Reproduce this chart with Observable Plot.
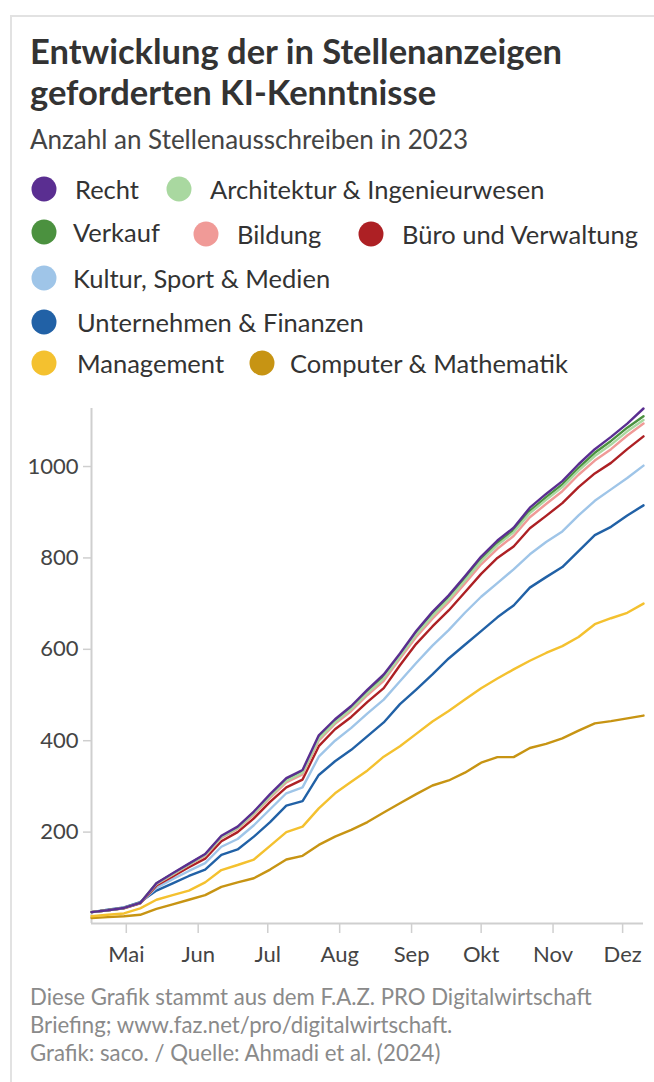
<!DOCTYPE html>
<html>
<head>
<meta charset="utf-8">
<script src="https://cdn.jsdelivr.net/npm/d3@7"></script>
<script src="https://cdn.jsdelivr.net/npm/@observablehq/plot@0.6"></script>
<style>
  html, body { margin: 0; padding: 0; background: #fff; }
  body { width: 654px; height: 1082px; position: relative; overflow: hidden; font-family: Lato, "Open Sans", sans-serif; color: #333; }
  .card { position: absolute; left: 10px; top: 15px; width: 660px; height: 1100px; border-left: 2px solid #e2e2e2; border-top: 2px solid #e2e2e2; }
  .title { position: absolute; left: 30px; top: 30px; font-size: 34.5px; font-weight: 700; line-height: 41px; color: #333; white-space: nowrap; }
  .subtitle { position: absolute; left: 30px; top: 124px; font-size: 26px; line-height: 31px; color: #444; white-space: nowrap; }
  .lg { position: absolute; font-size: 25.5px; color: #333; white-space: nowrap; line-height: 30px; transform: translateY(-50%); }
  .dot { position: absolute; width: 25px; height: 25px; border-radius: 50%; transform: translate(-50%, -50%); }
  #chart { position: absolute; left: 0; top: 395px; }
  .caption { position: absolute; left: 30px; top: 983px; font-size: 22.2px; line-height: 28px; color: #8a8a8a; white-space: nowrap; }
</style>
</head>
<body>
<div class="card"></div>
<div class="title">Entwicklung der in Stellenanzeigen<br>geforderten KI-Kenntnisse</div>
<div class="subtitle">Anzahl an Stellenausschreiben in 2023</div>
<div id="legend"></div>
<div id="chart"></div>
<div class="caption">Diese Grafik stammt aus dem F.A.Z. PRO Digitalwirtschaft<br>Briefing; www.faz.net/pro/digitalwirtschaft.<br>Grafik: saco. / Quelle: Ahmadi et al. (2024)</div>
<script>
// ---- data ----
const dates = ["2023-04-16","2023-04-23","2023-04-30","2023-05-07","2023-05-14","2023-05-21","2023-05-28",
  "2023-06-04","2023-06-11","2023-06-18","2023-06-25","2023-07-02","2023-07-09","2023-07-16","2023-07-23",
  "2023-07-30","2023-08-06","2023-08-13","2023-08-20","2023-08-27","2023-09-03","2023-09-10","2023-09-17",
  "2023-09-24","2023-10-01","2023-10-08","2023-10-15","2023-10-22","2023-10-29","2023-11-05","2023-11-12",
  "2023-11-19","2023-11-26","2023-12-03","2023-12-10"];

const categories = ["Recht","Architektur & Ingenieurwesen","Verkauf","Bildung","Büro und Verwaltung",
  "Kultur, Sport & Medien","Unternehmen & Finanzen","Management","Computer & Mathematik"];
const colors = ["#5a2e91","#a9d8a0","#4b913f","#f09a97","#ad2024","#9fc5e8","#2161a6","#f4c12f","#c79413"];

const recht = [25,29,34,45,88,110,131,152,192,212,245,283,318,336,412,447,476,512,545,591,640,682,718,760,803,838,866,910,940,968,1005,1038,1065,1094,1127];
const architektur = [25,29,34,45,87,108,129,150,189,209,241,278,312,330,404,440,469,504,536,584,632,673,709,750,793,828,856,898,927,955,991,1023,1048,1077,1102];
const verkauf = [25,29,34,45,88,109,130,151,190,210,243,280,315,333,408,443,472,508,540,587,636,677,713,755,797,832,860,903,933,961,997,1030,1056,1085,1110];
const bildung = [25,29,34,45,86,107,128,148,187,207,238,275,309,326,400,437,465,500,531,580,627,667,703,744,786,820,848,889,918,946,982,1013,1038,1068,1094];
const buero = [25,29,33,44,83,103,123,142,180,200,230,266,298,315,388,425,452,485,515,565,612,650,685,725,765,800,825,865,892,920,955,985,1008,1038,1066];
const kultur = [25,29,34,45,78,97,115,132,168,185,215,250,285,298,365,400,428,460,490,530,570,608,642,680,715,745,775,808,835,858,893,925,950,975,1002];
const unternehmen = [25,30,35,47,72,88,104,118,150,162,190,222,258,268,325,355,380,410,440,480,512,545,580,610,640,670,696,735,758,780,815,850,868,893,915];
const management = [16,19,22,33,52,62,72,90,117,128,140,170,200,212,252,285,310,335,365,388,415,442,465,490,515,536,556,575,592,607,627,655,668,680,700];
const computer = [12,14,16,19,32,42,52,62,80,90,99,118,140,148,172,190,205,222,243,263,283,302,313,330,352,364,364,384,393,405,422,438,443,449,455];

const seriesValues = [recht, architektur, verkauf, bildung, buero, kultur, unternehmen, management, computer];
const yTicks = [200, 400, 600, 800, 1000];
const monthNames = ["Jan","Feb","Mär","Apr","Mai","Jun","Jul","Aug","Sep","Okt","Nov","Dez"];
const xTicks = ["2023-05-01","2023-06-01","2023-07-01","2023-08-01","2023-09-01","2023-10-01","2023-11-01","2023-12-01"];

// ---- legend ----
const legendLayout = [
  {i:0, cx:44, tx:75, y:189}, {i:1, cx:179, tx:210, y:189},
  {i:2, cx:44, tx:73, y:232}, {i:3, cx:206, tx:237, y:234}, {i:4, cx:371, tx:402, y:234},
  {i:5, cx:44, tx:73, y:278},
  {i:6, cx:44, tx:77, y:322},
  {i:7, cx:44, tx:77, y:363}, {i:8, cx:262, tx:290, y:363}
];
const lg = document.getElementById("legend");
for (const it of legendLayout) {
  const d = document.createElement("div");
  d.className = "dot"; d.style.left = it.cx + "px"; d.style.top = it.y + "px"; d.style.background = colors[it.i];
  lg.appendChild(d);
  const t = document.createElement("div");
  t.className = "lg"; t.style.left = it.tx + "px"; t.style.top = it.y + "px"; t.textContent = categories[it.i];
  lg.appendChild(t);
}

// ---- chart ----
const parse = d3.utcParse("%Y-%m-%d");
const rows = [];
categories.forEach((c, k) => {
  seriesValues[k].forEach((v, j) => rows.push({date: parse(dates[j]), value: v, cat: c}));
});
const x0 = parse(dates[0]), x1 = parse(dates[dates.length - 1]);

const chart = Plot.plot({
  width: 654,
  height: 578,
  marginLeft: 91,
  marginRight: 11,
  marginTop: 13,
  marginBottom: 50,
  style: {fontFamily: "Lato, 'Open Sans', sans-serif", fontSize: "22px", color: "#444", background: "transparent"},
  x: {type: "utc", domain: [x0, x1], label: null},
  y: {domain: [0, 1127], label: null},
  color: {domain: categories, range: colors},
  marks: [
    Plot.axisY({ticks: yTicks, tickSize: 8, tickPadding: 5, stroke: "#cfcfcf", strokeWidth: 1.5, fontSize: 22, fill: "#444",
      tickFormat: d => String(d), label: null}),
    Plot.axisX({ticks: xTicks.map(parse), tickSize: 10, tickPadding: 13, stroke: "#cfcfcf", strokeWidth: 1.5, fontSize: 22, fill: "#444",
      tickFormat: d => monthNames[d.getUTCMonth()], label: null}),
    Plot.ruleX([x0], {stroke: "#cfcfcf", strokeWidth: 2}),
    Plot.ruleY([0], {stroke: "#cfcfcf", strokeWidth: 2}),
    Plot.line(rows.slice().reverse(), {x: "date", y: "value", z: "cat", stroke: "cat", strokeWidth: 2.4, curve: "linear"})
  ]
});
document.getElementById("chart").appendChild(chart);
</script>
</body>
</html>
